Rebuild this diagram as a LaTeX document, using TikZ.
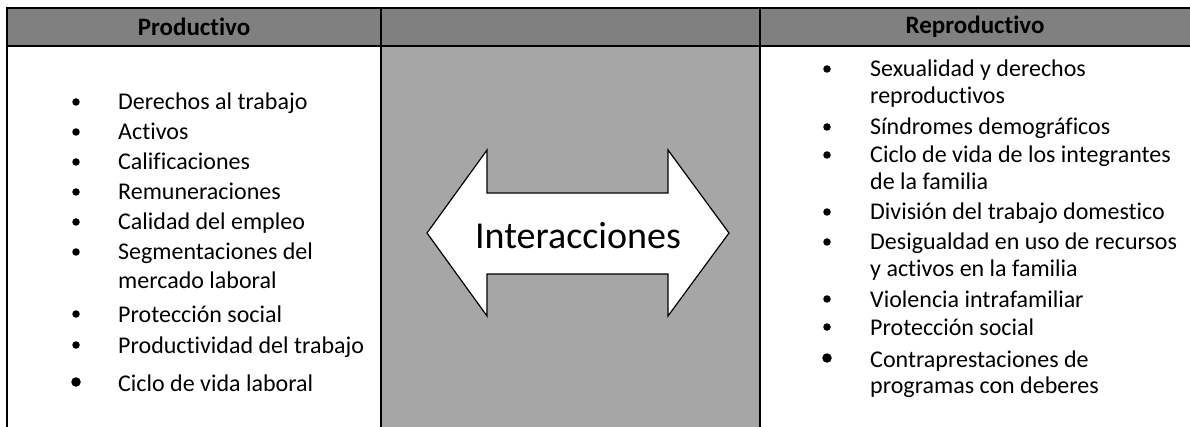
\documentclass[tikz,border=0pt]{standalone}
\usepackage{fontspec}
\setmainfont{Carlito}[Ligatures=NoCommon]
\definecolor{headgray}{HTML}{808080}
\definecolor{midgray}{HTML}{A6A6A6}
\tikzset{
  rule/.style={line width=2.2pt},
  item/.style={anchor=base west,inner sep=0pt,font=\fontsize{24}{28}\selectfont},
  head/.style={inner sep=0pt,font=\fontsize{25}{29}\selectfont\bfseries},
  dot/.style={circle,fill=black,inner sep=0pt,minimum size=7.5pt}
}
\begin{document}
\begin{tikzpicture}[x=1pt,y=-1pt]
\useasboundingbox (0,0) rectangle (1190,427);
\fill [headgray] (7,8) rectangle (1190,46); \fill [midgray] (381,46) rectangle (760,427);
\draw [rule] (1190,8) -- (7,8) -- (7,427); \draw [rule] (7,46) -- (1190,46);
\draw [rule] (381,8) -- (381,427); \draw [rule] (760,8) -- (760,427);
\node [head] (prod) at (194,27) {Productivo}; \node [head] (repr) at (975,27) {Reproductivo};

\draw [line width=1.2pt, fill=white] (427,233) -- (487,150) -- (487,193) -- (668,193) -- (668,150) -- (729,233) -- (668,316) -- (668,274) -- (487,274) -- (487,316) -- cycle;
\node [inner sep=0pt, font=\fontsize{38}{42}\selectfont] (inter) at (578,236) {Interacciones};

\node [item] (p1) at (118,110) {Derechos al trabajo}; \node [dot] at (76,102) {};
\node [item] (p2) at (118,140) {Activos}; \node [dot] at (76,132) {};
\node [item] (p3) at (118,170) {Calificaciones}; \node [dot] at (76,162) {};
\node [item] (p4) at (118,200) {Remuneraciones}; \node [dot] at (76,192) {};
\node [item] (p5) at (118,230) {Calidad del empleo}; \node [dot] at (76,222) {};
\node [item] (p6) at (118,260) {Segmentaciones del}; \node [dot] at (76,252) {};
\node [item] (p6b) at (118,289) {mercado laboral};
\node [item] (p7) at (118,322) {Protección social}; \node [dot] at (76,314) {};
\node [item] (p8) at (118,353) {Productividad del trabajo}; \node [dot] at (76,345) {};
\node [item] (p9) at (118,391) {Ciclo de vida laboral}; \node [dot, minimum size=9.5pt] at (76,382) {};

\node [item] (r1) at (870,77) {Sexualidad y derechos}; \node [dot] at (827,69) {};
\node [item] (r1b) at (870,104) {reproductivos};
\node [item] (r2) at (870,135) {Síndromes demográficos}; \node [dot] at (827,127) {};
\node [item] (r3) at (870,163) {Ciclo de vida de los integrantes}; \node [dot] at (827,155) {};
\node [item] (r3b) at (870,190) {de la familia};
\node [item] (r4) at (870,220) {División del trabajo domestico}; \node [dot] at (827,212) {};
\node [item] (r5) at (870,250) {Desigualdad en uso de recursos}; \node [dot] at (827,242) {};
\node [item] (r5b) at (870,277) {y activos en la familia};
\node [item] (r6) at (870,307) {Violencia intrafamiliar}; \node [dot] at (827,299) {};
\node [item] (r7) at (870,335) {Protección social}; \node [dot] at (827,327) {};
\node [item] (r8) at (870,367) {Contraprestaciones de}; \node [dot, minimum size=9.5pt] at (827,358) {};
\node [item] (r8b) at (870,393) {programas con deberes};
\end{tikzpicture}
\end{document}
